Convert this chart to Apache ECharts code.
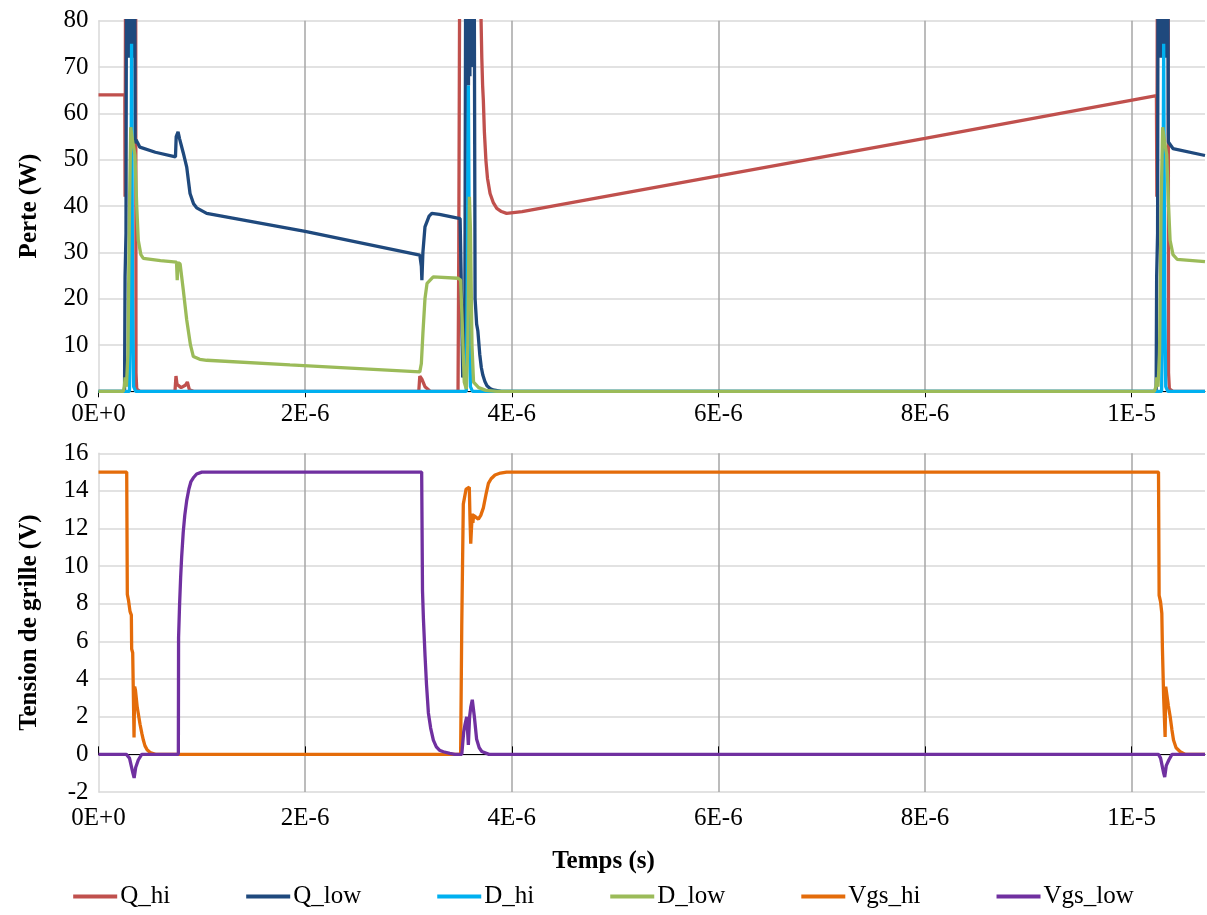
<!DOCTYPE html>
<html>
<head>
<meta charset="utf-8">
<style>
  html, body { margin: 0; padding: 0; background: #ffffff; }
  #chart { width: 1207px; height: 915px; }
</style>
<script src="https://cdn.jsdelivr.net/npm/echarts@6/dist/echarts.min.js"></script>
</head>
<body>
<div id="chart"></div>
<script>
// Switching waveforms of one half-bridge period. Time is given in microseconds.
const FONT = "'Liberation Serif', 'Times New Roman', serif";

const timeTicks = [0, 2, 4, 6, 8, 10];
const timeTickLabels = ['0E+0', '2E-6', '4E-6', '6E-6', '8E-6', '1E-5'];
const timeMax = 10.71;

const seriesNames = ['Q_hi', 'Q_low', 'D_hi', 'D_low', 'Vgs_hi', 'Vgs_low'];
const seriesColors = ['#C0504D', '#1F497D', '#00B0F0', '#9BBB59', '#E46C0A', '#7030A0'];

// Losses (W)
const qHi = [
  [0, 64], [0.255, 64], [0.257, 42], [0.263, 42], [0.268, 150], [0.358, 150], [0.363, 4], [0.37, 0.5], [0.40, 0],
  [0.74, 0], [0.75, 3.3], [0.76, 1.5], [0.80, 0.8], [0.84, 1.3], [0.86, 2.0], [0.88, 0.3], [0.92, 0],
  [3.10, 0], [3.11, 3.3], [3.13, 2.6], [3.16, 1], [3.21, 0],
  [3.48, 0], [3.487, 29.8], [3.497, 29.8], [3.505, 150], [3.695, 150], [3.703, 80], [3.71, 72], [3.718, 66],
  [3.725, 62.8], [3.735, 56], [3.75, 49.8], [3.765, 46], [3.79, 42.7], [3.82, 40.8], [3.855, 39.5],
  [3.9, 38.8], [3.95, 38.4], [4.1, 38.8], [6, 46.5], [8, 54.6], [10.24, 63.8],
  [10.244, 42], [10.25, 42], [10.255, 150], [10.352, 150], [10.357, 4], [10.365, 0.5], [10.40, 0], [10.71, 0]
];
// ringing above the visible range shows as a solid band near the top
const qLow = [
  [0, 0], [0.252, 0], [0.257, 24.7], [0.263, 24.7], [0.266, 34], [0.27, 34], [0.275, 150],
  [0.282, 72], [0.289, 150], [0.296, 72], [0.303, 150], [0.31, 72], [0.317, 150], [0.324, 72],
  [0.331, 150], [0.338, 74], [0.345, 150], [0.35, 150],
  [0.355, 53.5], [0.363, 54.3], [0.38, 53.6], [0.40, 52.7], [0.55, 51.6], [0.745, 50.6], [0.752, 55], [0.77, 56],
  [0.785, 54.5], [0.82, 51.5], [0.854, 48.4], [0.886, 42.7], [0.92, 40.5], [0.95, 39.6], [1.047, 38.4],
  [2.0, 34.5], [3.11, 29.4], [3.125, 27], [3.13, 24], [3.14, 30], [3.16, 35.5], [3.2, 37.8], [3.226, 38.4],
  [3.3, 38.2], [3.50, 37.3], [3.51, 25], [3.525, 3], [3.545, 5], [3.56, 150],
  [3.567, 66], [3.574, 150], [3.581, 66], [3.588, 150], [3.595, 68], [3.602, 150], [3.609, 70],
  [3.616, 150], [3.623, 72], [3.63, 150], [3.635, 150], [3.645, 20],
  [3.66, 14.5], [3.672, 13], [3.69, 8], [3.705, 5.2], [3.72, 3.5], [3.74, 2.1], [3.76, 1.2], [3.79, 0.6],
  [3.82, 0.3], [3.9, 0],
  [10.237, 0], [10.242, 24.7], [10.248, 24.7], [10.251, 34], [10.255, 34], [10.26, 150],
  [10.267, 72], [10.274, 150], [10.281, 72], [10.288, 150], [10.295, 72], [10.302, 150], [10.309, 72],
  [10.316, 150], [10.323, 72], [10.33, 150], [10.337, 74], [10.344, 150], [10.35, 150],
  [10.355, 53.8], [10.37, 53.6], [10.40, 52.4], [10.71, 50.9]
];
const dHi = [
  [0, 0], [0.30, 0], [0.31, 20], [0.32, 75], [0.33, 20], [0.34, 1], [0.36, 0],
  [3.56, 0], [3.57, 25], [3.58, 66], [3.59, 25], [3.60, 1], [3.62, 0],
  [10.29, 0], [10.30, 20], [10.31, 75], [10.32, 20], [10.33, 1], [10.35, 0], [10.71, 0]
];
const dLow = [
  [0, 0], [0.24, 0], [0.25, 1], [0.258, 3], [0.27, 1], [0.285, 8], [0.30, 40], [0.312, 57], [0.33, 54],
  [0.353, 51], [0.37, 40], [0.385, 32.6], [0.41, 29.5], [0.434, 28.7], [0.6, 28.2], [0.755, 27.9], [0.762, 24],
  [0.77, 27.8], [0.79, 27.5], [0.82, 22], [0.854, 15.4], [0.89, 10], [0.918, 7.5], [0.98, 6.9], [1.047, 6.7],
  [1.853, 5.7], [3.11, 4.2], [3.125, 6], [3.14, 12.5], [3.16, 20], [3.18, 23.3], [3.24, 24.7], [3.48, 24.4],
  [3.505, 24], [3.52, 15], [3.54, 2], [3.56, 0.5], [3.575, 10], [3.59, 42], [3.60, 35], [3.615, 10],
  [3.63, 2], [3.68, 0.8], [3.75, 0.2], [3.85, 0],
  [10.22, 0], [10.235, 1], [10.243, 3], [10.255, 1], [10.27, 8], [10.285, 40], [10.30, 57], [10.318, 54],
  [10.34, 51], [10.357, 40], [10.372, 32.6], [10.40, 29.5], [10.44, 28.5], [10.71, 28]
];

// Gate voltages (V)
const vgsHi = [
  [0, 15], [0.273, 15], [0.279, 8.5], [0.29, 8.2], [0.305, 7.6], [0.318, 7.4], [0.321, 5.6], [0.331, 5.4],
  [0.338, 3], [0.344, 0.9], [0.35, 3.6], [0.358, 3.4], [0.375, 2.5], [0.39, 2.0], [0.402, 1.6], [0.42, 1.1],
  [0.434, 0.76], [0.45, 0.45], [0.47, 0.25], [0.50, 0.1], [0.55, 0],
  [3.505, 0], [3.516, 6.8], [3.531, 13.3], [3.558, 14.1], [3.589, 14.2], [3.596, 12.5], [3.603, 11.2],
  [3.61, 12], [3.618, 12.8], [3.624, 12.3], [3.63, 12.7], [3.677, 12.5], [3.70, 12.7], [3.725, 13.1],
  [3.75, 13.8], [3.774, 14.4], [3.80, 14.65], [3.838, 14.85], [3.89, 14.95], [3.95, 15],
  [10.26, 15], [10.266, 8.45], [10.28, 8.1], [10.292, 7.5], [10.298, 5.6], [10.302, 5.5], [10.31, 3],
  [10.324, 0.93], [10.33, 3.6], [10.34, 3.5], [10.355, 2.6], [10.373, 2.0], [10.39, 1.3], [10.405, 0.76],
  [10.43, 0.35], [10.47, 0.14], [10.52, 0], [10.71, 0]
];
const vgsLow = [
  [0, 0], [0.27, 0], [0.285, 0.1], [0.30, -0.2], [0.333, -1.0], [0.345, -1.25], [0.36, -0.7], [0.385, -0.3],
  [0.418, 0], [0.773, 0], [0.775, 6.2], [0.785, 8], [0.795, 9.4], [0.805, 10.5], [0.82, 11.8], [0.835, 12.7],
  [0.854, 13.5], [0.875, 14.1], [0.895, 14.5], [0.918, 14.7], [0.95, 14.9], [1.0, 15],
  [3.128, 15], [3.136, 8.7], [3.145, 7.2], [3.161, 5.2], [3.175, 3.7], [3.193, 2.2], [3.215, 1.4],
  [3.241, 0.76], [3.27, 0.4], [3.30, 0.22], [3.338, 0.14], [3.4, 0.05], [3.45, 0],
  [3.516, 0], [3.535, 1.2], [3.548, 1.6], [3.564, 2.0], [3.58, 0.5], [3.592, 2.0], [3.603, 2.5], [3.618, 2.9],
  [3.638, 2.0], [3.66, 0.8], [3.685, 0.35], [3.71, 0.15], [3.78, 0],
  [10.26, 0], [10.28, -0.2], [10.31, -1.0], [10.32, -1.2], [10.335, -0.6], [10.36, -0.3], [10.39, 0], [10.71, 0]
];

const seriesData = [qHi, qLow, dHi, dLow, vgsHi, vgsLow];
const seriesGrid = [0, 0, 0, 0, 1, 1];

const tickText = { color: '#000', fontFamily: FONT, fontSize: 25 };
const titleText = { color: '#000', fontFamily: FONT, fontSize: 25, fontWeight: 'bold' };

function timeLabel(v) {
  const i = timeTicks.indexOf(Math.round(v * 1000) / 1000);
  return i >= 0 ? timeTickLabels[i] : '';
}

function timeAxis(gridIndex, extra) {
  return Object.assign({
    type: 'value', gridIndex: gridIndex, min: 0, max: timeMax, interval: 2,
    axisLine: { show: true, onZero: true, lineStyle: { color: '#000', width: 1 } },
    axisTick: { show: true, length: 6, lineStyle: { color: '#000' }, customValues: timeTicks },
    axisLabel: Object.assign({ margin: 11, formatter: timeLabel, customValues: timeTicks }, tickText),
    splitLine: { show: true, showMinLine: false, showMaxLine: true, lineStyle: { color: '#A6A6A6', width: 1.5 } }
  }, extra || {});
}

const chart = echarts.init(document.getElementById('chart'), null, { renderer: 'canvas' });

chart.setOption({
  animation: false,
  backgroundColor: '#ffffff',
  color: seriesColors,
  textStyle: { fontFamily: FONT },
  title: {
    text: 'Temps (s)', left: 'center', top: 844,
    textStyle: titleText
  },
  legend: {
    data: seriesNames, bottom: 1, left: 'center',
    icon: 'rect', itemWidth: 44, itemHeight: 4, itemGap: 76,
    textStyle: { color: '#000', fontFamily: FONT, fontSize: 25, padding: [0, 0, 0, -2] }
  },
  grid: [
    { left: 98.5, top: 20.7, width: 1106.5, height: 370.6, containLabel: false },
    { left: 98.5, top: 453.3, width: 1106.5, height: 338.7, containLabel: false }
  ],
  xAxis: [
    timeAxis(0),
    timeAxis(1, {
      axisLine: { show: false, onZero: false },
      axisTick: { show: false, customValues: timeTicks },
      axisLabel: Object.assign({ margin: 14, formatter: timeLabel, customValues: timeTicks }, tickText)
    }),
    // black zero line of the gate-voltage panel
    timeAxis(1, {
      position: 'top',
      axisLine: { show: true, onZero: true, lineStyle: { color: '#000', width: 1 } },
      axisTick: { show: true, length: 8, lineStyle: { color: '#000' }, customValues: timeTicks },
      axisLabel: { show: false },
      splitLine: { show: false }
    })
  ],
  yAxis: [
    {
      type: 'value', gridIndex: 0, min: 0, max: 80, interval: 10,
      name: 'Perte (W)', nameLocation: 'middle', nameGap: 56, nameTextStyle: titleText,
      axisLine: { show: true, lineStyle: { color: '#D9D9D9', width: 1.5 } },
      axisTick: { show: false },
      axisLabel: Object.assign({ margin: 10 }, tickText),
      splitLine: { show: true, lineStyle: { color: '#D9D9D9', width: 1.5 } }
    },
    {
      type: 'value', gridIndex: 1, min: -2, max: 16, interval: 2,
      name: 'Tension de grille (V)', nameLocation: 'middle', nameGap: 56, nameTextStyle: titleText,
      axisLine: { show: true, lineStyle: { color: '#D9D9D9', width: 1.5 } },
      axisTick: { show: false },
      axisLabel: Object.assign({ margin: 10 }, tickText),
      splitLine: { show: true, lineStyle: { color: '#D9D9D9', width: 1.5 } }
    }
  ],
  series: seriesNames.map((name, i) => ({
    name: name,
    type: 'line',
    xAxisIndex: seriesGrid[i] === 0 ? 0 : 1,
    yAxisIndex: seriesGrid[i],
    data: seriesData[i],
    symbol: 'none',
    clip: true,
    lineStyle: { color: seriesColors[i], width: 3.3 },
    itemStyle: { color: seriesColors[i] }
  }))
});
</script>
</body>
</html>
